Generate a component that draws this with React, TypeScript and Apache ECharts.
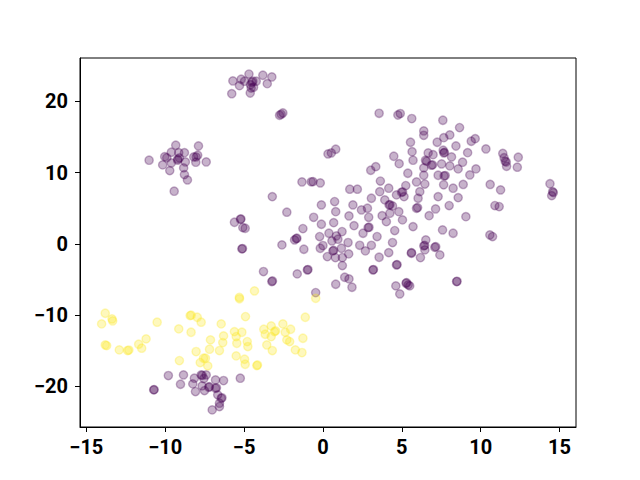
import React, { useEffect, useRef } from "react";
import * as echarts from "echarts";

const xTicks = [-15, -10, -5, 0, 5, 10, 15];
const yTicks = [-20, -10, 0, 10, 20];

const purple: [number, number][] = [
  // top-left cluster
  [-11.02, 11.75], [-9.33, 13.85], [-7.89, 13.75], [-10.03, 12.25], [-9.9, 12.1], [-9.61, 12.87],
  [-9.14, 12.81], [-8.78, 12.81], [-9.1, 12.07], [-9.2, 11.9], [-9.21, 11.75], [-8.72, 11.51],
  [-10.16, 11.09], [-9.61, 11.37], [-9.71, 10.29], [-8.83, 10.67], [-8.78, 9.73], [-8.59, 8.98],
  [-8.19, 12.21], [-8.04, 12.21], [-7.94, 12.45], [-8.06, 11.47], [-7.4, 11.51], [-9.43, 7.4],
  // top cluster
  [-5.71, 22.88], [-5.78, 21.09], [-5.18, 23.12], [-4.97, 22.84], [-4.69, 23.84], [-5.29, 22.22],
  [-4.61, 21.19], [-3.81, 23.68], [-3.24, 23.44], [-3.53, 22.5], [-4.23, 22.84], [-4.59, 22.36],
  [-4.4, 22.0], [-4.5, 22.7], [-4.55, 21.89], [-4.44, 22.84],
  [-2.75, 18.06], [-2.54, 18.38], [-2.65, 18.2],
  // main cluster, upper part
  [3.56, 18.34], [4.75, 18.1], [4.9, 18.3], [5.63, 17.6], [0.53, 12.77], [0.81, 13.29], [0.32, 12.63],
  [4.49, 12.31], [4.83, 11.27], [3.35, 10.85], [3.03, 10.34], [5.55, 14.27], [5.65, 12.95],
  [5.71, 11.75], [5.38, 9.92], [3.64, 8.82],
  [-1.33, 8.7], [-0.74, 8.72], [-0.63, 8.75], [-0.17, 8.56],
  [7.6, 17.36], [8.66, 16.33], [6.39, 15.86], [6.39, 15.25], [8.04, 15.3], [7.66, 14.92], [7.24, 14.27],
  [9.4, 14.41], [9.65, 14.78], [10.33, 13.33], [8.43, 13.75], [6.67, 12.77], [7.62, 13.15], [7.66, 12.77],
  [7.7, 12.85], [6.98, 12.53], [8.15, 12.21], [9.17, 12.81], [6.57, 11.61], [6.5, 11.75], [6.88, 11.05],
  [6.95, 11.1], [7.52, 11.23], [8.04, 10.95], [8.85, 11.47], [8.57, 10.53], [9.7, 10.53], [9.31, 9.68],
  [6.39, 10.67], [6.39, 9.64], [7.3, 9.64], [7.68, 9.54], [7.75, 9.6], [5.93, 8.7], [6.46, 8.4],
  [7.65, 8.3], [8.89, 8.35], [10.6, 8.35],
  // right groups
  [11.4, 12.7], [11.48, 12.1], [11.55, 11.6], [11.62, 11.5], [11.64, 10.9], [12.38, 12.17], [12.32, 10.77],
  [14.39, 8.45], [14.56, 7.34], [14.6, 7.2], [14.5, 6.78],
  [11.26, 7.58], [10.9, 5.38], [11.17, 5.24], [10.58, 1.26], [10.75, 1.03],
  [8.25, 7.82], [8.57, 6.5], [7.3, 6.64], [8.0, 5.38], [9.06, 3.83], [6.14, 7.34], [6.03, 6.41],
  [5.93, 5.01], [6.0, 5.1], [7.14, 4.91], [6.73, 3.97], [5.71, 2.43], [7.58, 1.96], [8.25, 1.5],
  [6.52, 0.56], [6.39, -0.28], [6.45, -0.2], [6.46, -0.84], [7.09, -0.47], [7.15, -0.4], [7.41, -1.54],
  [6.18, -1.92], [5.61, -1.22], [8.47, -5.29], [8.5, -5.25], [5.5, -5.89],
  // main cluster, central part
  [-3.21, 6.64], [-2.29, 4.45], [-0.1, 5.47], [0.74, 5.94], [0.81, 4.53], [1.7, 7.68], [2.18, 7.68],
  [4.17, 7.82], [3.6, 7.34], [3.07, 6.41], [5.25, 8.19], [4.98, 7.25], [5.05, 7.3], [4.66, 6.88],
  [5.14, 6.64], [3.92, 6.18], [4.19, 5.47], [4.25, 5.5], [4.41, 5.33], [1.9, 5.47], [2.44, 4.77],
  [2.82, 5.01], [4.81, 4.53], [3.75, 3.97], [4.24, 4.31], [2.9, 3.74], [4.02, 3.13], [5.04, 3.37],
  [1.65, 3.93], [0.68, 2.99], [1.97, 2.57], [2.86, 2.29], [2.92, 2.35], [-0.59, 3.74], [-0.1, 2.76],
  [-1.27, 2.15], [1.21, 1.73], [0.38, 1.5], [-0.21, 1.03], [0.85, 1.12], [2.54, 1.5], [3.43, 1.03],
  [4.55, 1.87],
  [-1.8, 0.56], [-1.69, 0.75], [-1.65, 0.8], [-2.6, -0.14], [-1.21, -0.75], [0.0, -0.23], [-0.17, -0.61],
  [0.57, 0.42], [0.95, 0.66], [1.59, 0.19], [0.63, -0.98], [0.68, -0.9], [1.17, -0.61], [0.28, -1.78],
  [0.79, -1.92], [1.23, -1.92], [1.63, -1.4], [2.33, -0.19], [2.69, -0.98], [3.07, -0.19], [3.56, -1.87],
  [4.17, -1.22], [4.41, 0.19], [4.66, -2.95], [4.7, -2.9], [3.17, -3.65], [3.2, -3.6], [1.23, -3.04],
  [-0.99, -3.65], [-0.95, -3.6], [-1.63, -4.21], [-3.77, -3.88], [-3.24, -5.29], [-3.2, -5.2],
  [1.38, -4.68], [1.65, -4.91], [0.81, -5.66], [1.84, -6.08], [-0.46, -6.83], [4.87, -7.02],
  [4.62, -5.89], [5.27, -5.52], [5.3, -5.45], [5.4, -5.75], [5.61, -1.31],
  [-5.61, 3.04], [-5.23, 3.46], [-5.2, 3.5], [-5.08, 2.29], [-4.93, 2.2], [-5.14, -0.7], [-5.1, -0.65],
  // bottom-left cluster
  [-10.73, -20.49], [-10.7, -20.45], [-9.8, -18.48], [-9.03, -19.7], [-8.84, -18.39], [-8.15, -18.85],
  [-8.25, -19.65], [-8.08, -20.73], [-7.72, -18.39], [-7.65, -18.45], [-7.55, -18.9], [-7.4, -18.39],
  [-7.66, -19.93], [-7.51, -20.59], [-7.24, -20.12], [-7.2, -20.05], [-6.81, -19.09], [-6.3, -19.18],
  [-6.81, -20.26], [-6.75, -20.2], [-6.67, -21.19], [-6.45, -21.66], [-6.4, -21.6], [-6.56, -22.36],
  [-7.02, -23.3], [-6.56, -22.83], [-5.24, -18.85],
];

const yellow: [number, number][] = [
  [-13.8, -9.73], [-14.03, -11.23], [-13.37, -10.53], [-13.33, -10.81], [-13.8, -14.18], [-13.71, -14.27],
  [-12.91, -14.88], [-12.38, -14.97], [-12.3, -14.9], [-11.68, -14.08], [-11.49, -14.64], [-11.21, -13.33],
  [-10.51, -10.99], [-9.14, -11.93], [-8.36, -12.4], [-8.42, -10.06], [-8.35, -10.0], [-7.97, -10.29],
  [-7.72, -10.99], [-6.45, -11.23], [-7.13, -13.47], [-6.3, -12.91], [-6.35, -13.85], [-8.04, -15.11],
  [-7.19, -14.78], [-6.56, -14.97], [-9.1, -16.38], [-7.78, -16.66], [-7.57, -16.05], [-7.3, -17.12],
  [-7.45, -16.05], [-5.61, -12.31], [-5.29, -7.7], [-5.3, -7.5], [-4.91, -10.2], [-5.5, -13.01],
  [-5.46, -13.94], [-5.14, -12.4], [-5.5, -15.72], [-4.97, -16.19], [-4.93, -16.89], [-4.8, -13.71],
  [-4.76, -14.41], [-4.34, -6.6],
  [-0.46, -7.63], [-1.12, -10.29], [-3.75, -11.98], [-3.28, -11.51], [-3.66, -12.68], [-3.28, -13.01],
  [-3.07, -12.31], [-3.0, -12.2], [-2.54, -11.23], [-2.39, -12.4], [-2.05, -11.98], [-2.29, -13.47],
  [-2.11, -13.71], [-1.27, -13.24], [-3.56, -14.18], [-3.21, -14.97], [-1.75, -14.88], [-1.33, -15.25],
  [-4.19, -17.08], [-4.15, -17.0],
];

const fmt = (v: number) => String(v).replace("-", "\u2212");

export default function App() {
  const ref = useRef<HTMLDivElement>(null);
  useEffect(() => {
    if (!ref.current) return;
    const chart = echarts.init(ref.current, undefined, { renderer: "svg" });
    const labelStyle = {
      color: "#000",
      fontFamily: "Roboto",
      fontWeight: "bold" as const,
      fontSize: 20,
      formatter: fmt,
    };
    const tickStyle = { show: true, inside: false, length: 5, lineStyle: { color: "#000", width: 1 } };
    const series = (data: [number, number][], rgb: string) => ({
      type: "scatter",
      data,
      symbol: "circle",
      symbolSize: 8.3,
      itemStyle: {
        color: `rgba(${rgb},0.3)`,
        borderColor: `rgba(${rgb},0.3)`,
        borderWidth: 1.4,
        opacity: 1,
      },
      emphasis: { disabled: true },
    });
    chart.setOption({
      animation: false,
      grid: {
        left: 80,
        right: 64,
        top: 58,
        bottom: 53,
        show: true,
        borderColor: "#000",
        borderWidth: 1,
        backgroundColor: "transparent",
        outerBoundsMode: "none",
      },
      xAxis: {
        type: "value",
        min: -15.4,
        max: 16.04,
        axisLine: { show: true, onZero: false, lineStyle: { color: "#000", width: 1 } },
        axisTick: { ...tickStyle, customValues: xTicks },
        axisLabel: { ...labelStyle, margin: 10, customValues: xTicks },
        splitLine: { show: false },
      },
      yAxis: {
        type: "value",
        min: -25.7,
        max: 26.1,
        axisLine: { show: true, onZero: false, lineStyle: { color: "#000", width: 1 } },
        axisTick: { ...tickStyle, customValues: yTicks },
        axisLabel: { ...labelStyle, margin: 12, customValues: yTicks },
        splitLine: { show: false },
      },
      series: [series(purple, "68,1,84"), series(yellow, "253,231,37")],
    });
    return () => chart.dispose();
  }, []);
  return (
    <div
      ref={ref}
      style={{ position: "absolute", left: 0, top: 0, width: 640, height: 480, background: "#fff" }}
    />
  );
}
